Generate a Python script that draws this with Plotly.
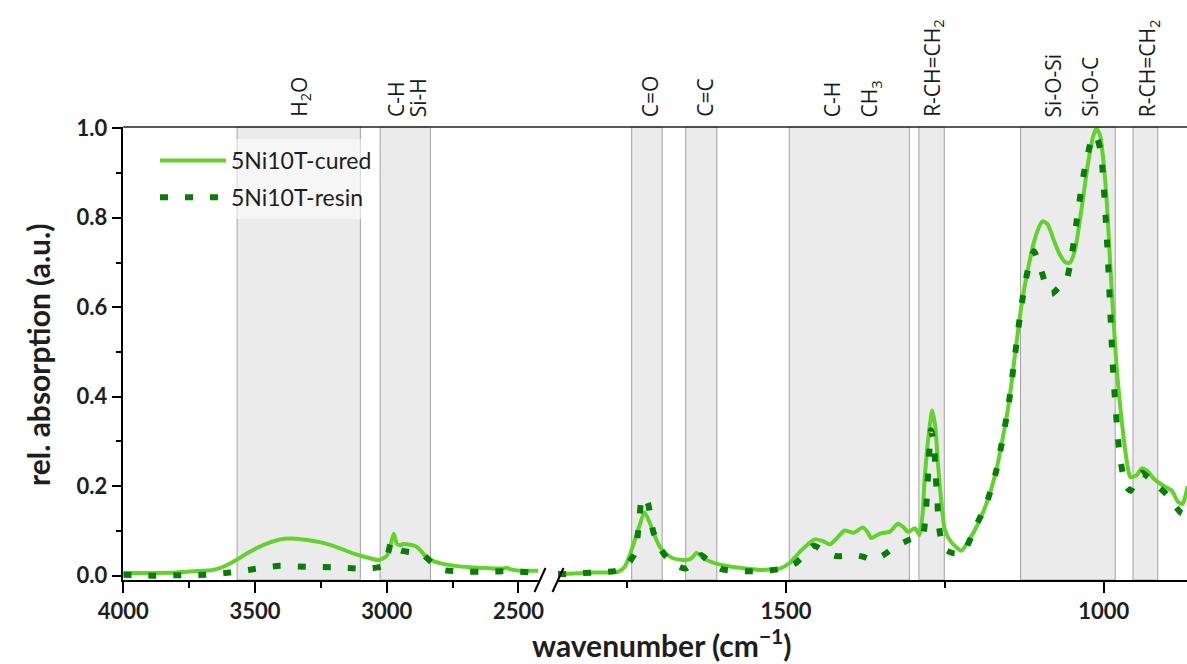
import plotly.graph_objects as go

W, H = 1187, 664

# ---------------- data ----------------
cured_wn = [4000, 3900, 3800, 3760, 3700, 3660, 3620, 3571, 3530, 3482, 3440, 3406, 3368, 3320,
            3254, 3190, 3128, 3070, 3030, 3000, 2985, 2973, 2962, 2950, 2938, 2910, 2887, 2865,
            2849, 2820, 2798, 2740, 2684, 2620, 2558, 2545, 2530, 2494, 2450, 2425,
            1859, 1851, 1804, 1764, 1754, 1745, 1738, 1730, 1723, 1715, 1707, 1699, 1688, 1678,
            1662, 1657, 1649, 1641, 1633, 1625, 1610, 1594, 1570, 1541, 1525, 1510, 1494, 1478,
            1465, 1455, 1443, 1431, 1420, 1408, 1394, 1379, 1372, 1366, 1358, 1350, 1337, 1324,
            1315, 1308, 1297, 1290, 1285, 1282, 1276, 1270, 1265, 1261, 1256, 1250, 1240, 1224,
            1212, 1200, 1185, 1170, 1160, 1150, 1140, 1130, 1120, 1110, 1100, 1095, 1088, 1080,
            1070, 1060, 1053, 1045, 1035, 1025, 1018, 1012, 1006, 1000, 995, 990, 985, 980, 975,
            968, 962, 958, 948, 940, 932, 920, 905, 893, 883, 876, 872, 868]
cured_abs = [0.006, 0.006, 0.007, 0.009, 0.011, 0.013, 0.020, 0.035, 0.050, 0.065, 0.075, 0.081, 0.083, 0.081,
             0.075, 0.064, 0.050, 0.040, 0.035, 0.044, 0.070, 0.094, 0.072, 0.068, 0.071, 0.069, 0.065, 0.052,
             0.041, 0.032, 0.028, 0.022, 0.019, 0.017, 0.016, 0.018, 0.014, 0.011, 0.011, 0.011,
             0.004, 0.004, 0.007, 0.009, 0.020, 0.050, 0.080, 0.115, 0.142, 0.120, 0.090, 0.065, 0.048, 0.039,
             0.035, 0.035, 0.039, 0.051, 0.043, 0.035, 0.027, 0.022, 0.017, 0.013, 0.014, 0.016, 0.029, 0.054,
             0.071, 0.081, 0.078, 0.070, 0.084, 0.101, 0.096, 0.108, 0.098, 0.084, 0.090, 0.095, 0.098, 0.116,
             0.108, 0.098, 0.106, 0.091, 0.140, 0.214, 0.310, 0.369, 0.330, 0.251, 0.170, 0.102, 0.075, 0.056,
             0.080, 0.110, 0.160, 0.230, 0.300, 0.380, 0.490, 0.600, 0.680, 0.745, 0.785, 0.792, 0.785, 0.755,
             0.720, 0.700, 0.700, 0.730, 0.820, 0.920, 0.975, 1.000, 0.985, 0.920, 0.830, 0.700, 0.580, 0.470, 0.390,
             0.300, 0.240, 0.220, 0.225, 0.240, 0.235, 0.215, 0.200, 0.190, 0.165, 0.160, 0.175, 0.200]

resin_wn = [4000, 3888, 3790, 3691, 3596, 3501, 3406, 3305, 3210, 3109, 3040, 3014, 2995, 2982, 2965,
            2946, 2905, 2864, 2830, 2786, 2691, 2634, 2539, 2444, 2425,
            1859, 1846, 1805, 1767, 1750, 1738, 1732, 1727, 1722, 1717, 1709, 1700, 1692, 1675, 1658,
            1645, 1634, 1620, 1600, 1558, 1519, 1500, 1485, 1470, 1456, 1440, 1422, 1393, 1378, 1363,
            1348, 1332, 1318, 1305, 1292, 1285, 1280, 1275, 1272, 1267, 1265, 1262, 1260, 1252, 1236,
            1221, 1203, 1185, 1170, 1160, 1150, 1140, 1130, 1120, 1110, 1100, 1090, 1082, 1070, 1060,
            1050, 1040, 1030, 1020, 1013, 1005, 995, 985, 975, 965, 958, 948, 940, 930, 915, 900, 890,
            878, 868]
resin_abs = [0.002, 0.000, 0.001, 0.002, 0.007, 0.015, 0.022, 0.020, 0.019, 0.016, 0.018, 0.022, 0.050, 0.076, 0.062,
             0.056, 0.052, 0.048, 0.030, 0.013, 0.009, 0.009, 0.010, 0.007, 0.007,
             0.004, 0.004, 0.007, 0.011, 0.025, 0.050, 0.110, 0.172, 0.176, 0.160, 0.098, 0.068, 0.048, 0.025, 0.016,
             0.030, 0.046, 0.030, 0.014, 0.010, 0.013, 0.018, 0.028, 0.048, 0.067, 0.055, 0.044, 0.046, 0.042, 0.035,
             0.045, 0.061, 0.072, 0.081, 0.086, 0.089, 0.143, 0.265, 0.325, 0.295, 0.232, 0.173, 0.117, 0.061, 0.050,
             0.052, 0.106, 0.160, 0.230, 0.300, 0.380, 0.490, 0.600, 0.680, 0.725, 0.690, 0.645, 0.630, 0.645, 0.655,
             0.720, 0.820, 0.910, 0.970, 0.985, 0.950, 0.750, 0.450, 0.270, 0.200, 0.190, 0.215, 0.230, 0.220, 0.200,
             0.180, 0.160, 0.140, 0.135]

# assignment bands (wavenumber ranges)
band_lo = [3568, 3025, 1743, 1658, 1495, 1291, 1131, 954]
band_hi = [3100, 2834, 1695, 1609, 1306, 1251, 982, 915]

# band labels
label_text = ["H<sub>2</sub>O", "C-H", "Si-H", "C=O", "C=C", "C-H", "CH<sub>3</sub>",
              "R-CH=CH<sub>2</sub>", "Si-O-Si", "Si-O-C", "R-CH=CH<sub>2</sub>"]
label_wn = [3330, 2967, 2882, 1714, 1628, 1428, 1368, 1269, 1080, 1022, 930]

series_names = ["5Ni10T-cured", "5Ni10T-resin"]

# axis ranges (broken axis)
left_range = [4000, 2418]
right_range = [1859, 869]
break_wn = 2100
y_range = [-0.0096, 1.0029]

# ---------------- figure ----------------
def px(x):
    return x / W


def py(y):
    return 1 - y / H


fig = go.Figure()

cured_color = "#62d22c"
resin_color = "#087d08"


def split(wn, val, left):
    pts = [(w, v) for w, v in zip(wn, val) if (w > break_wn) == left]
    return [p[0] for p in pts], [p[1] for p in pts]


for name, wn, val, color, dash, width in [
    (series_names[0], cured_wn, cured_abs, cured_color, "solid", 4),
    (series_names[1], resin_wn, resin_abs, resin_color, "8px,17px", 6),
]:
    for left in (True, False):
        xs, ys = split(wn, val, left)
        fig.add_trace(go.Scatter(
            x=xs, y=ys, mode="lines", name=name, legendgroup=name,
            showlegend=left, xaxis="x" if left else "x2", yaxis="y",
            line=dict(color=color, width=width, dash=dash, shape="spline", smoothing=0.6),
            hoverinfo="x+y",
        ))

y0p, y1p = py(580), py(127)
xl0, xl1 = px(123.3), px(540)
xr0, xr1 = px(558), 1.0

tickfont = dict(family="Lato", size=22, color="#1e1e1e", weight="bold")
common_x = dict(showline=True, linecolor="black", linewidth=1.5, ticks="outside", ticklen=11,
                tickwidth=1.5, tickcolor="black", showgrid=False, zeroline=False, automargin=False,
                tickfont=tickfont, dtick=500, tick0=0,
                minor=dict(dtick=250, ticks="outside", ticklen=6, tickwidth=1.5, tickcolor="black",
                           showgrid=False))

shapes = []
for lo, hi in zip(band_lo, band_hi):
    xref = "x" if lo > break_wn else "x2"
    shapes.append(dict(type="rect", xref=xref, yref="y domain", x0=lo, x1=hi, y0=0, y1=1,
                       fillcolor="#ebebeb", line=dict(color="#a2a2a2", width=1), layer="below"))
# top frame line
shapes.append(dict(type="line", xref="paper", yref="paper", x0=xl0, x1=1.0, y0=y1p, y1=y1p,
                   line=dict(color="#222222", width=1.5)))
# axis break marks
for xa in (540, 558):
    shapes.append(dict(type="line", xref="paper", yref="paper",
                       x0=px(xa - 5.5), x1=px(xa + 5.5), y0=py(592), y1=py(568),
                       line=dict(color="black", width=2)))

annotations = []
for t, w in zip(label_text, label_wn):
    annotations.append(dict(text=t, x=w, xref="x" if w > break_wn else "x2", y=py(119), yref="paper",
                            textangle=-90, xanchor="center", yanchor="bottom", showarrow=False,
                            font=dict(family="Open Sans", size=21, color="#1a1a1a")))
annotations.append(dict(text="wavenumber (cm<sup>\u22121</sup>)", x=px(662), y=py(643), xref="paper",
                        yref="paper", showarrow=False, xanchor="center", yanchor="middle",
                        font=dict(family="Lato", size=30, color="#1e1e1e", weight="bold")))
annotations.append(dict(text="rel. absorption (a.u.)", x=px(38), y=py(355), xref="paper",
                        yref="paper", showarrow=False, xanchor="center", yanchor="middle", textangle=-90,
                        font=dict(family="Lato", size=30, color="#1e1e1e", weight="bold")))

fig.update_layout(
    width=W, height=H, margin=dict(l=0, r=0, t=0, b=0, autoexpand=False),
    paper_bgcolor="white", plot_bgcolor="rgba(0,0,0,0)",
    xaxis=dict(domain=[xl0, xl1], range=left_range, anchor="y", **common_x),
    xaxis2=dict(domain=[xr0, xr1], range=right_range, anchor="y", **common_x),
    yaxis=dict(domain=[y0p, y1p], range=y_range, anchor="x", showline=True, linecolor="black",
               linewidth=1.5, ticks="outside", ticklen=10, tickwidth=1.5, tickcolor="black",
               showgrid=False, zeroline=False, dtick=0.2, tick0=0, tickformat=".1f", automargin=False,
               tickfont=tickfont,
               minor=dict(dtick=0.1, ticks="outside", ticklen=6, tickwidth=1.5, tickcolor="black",
                          showgrid=False)),
    shapes=shapes, annotations=annotations,
    showlegend=True,
    legend=dict(x=px(155), y=py(139), xanchor="left", yanchor="top",
                bgcolor="rgba(255,255,255,0.55)", borderwidth=0,
                font=dict(family="Lato", size=23, color="#1e1e1e"),
                itemwidth=66, tracegroupgap=4, traceorder="grouped"),
)

fig.write_html("out.html")
